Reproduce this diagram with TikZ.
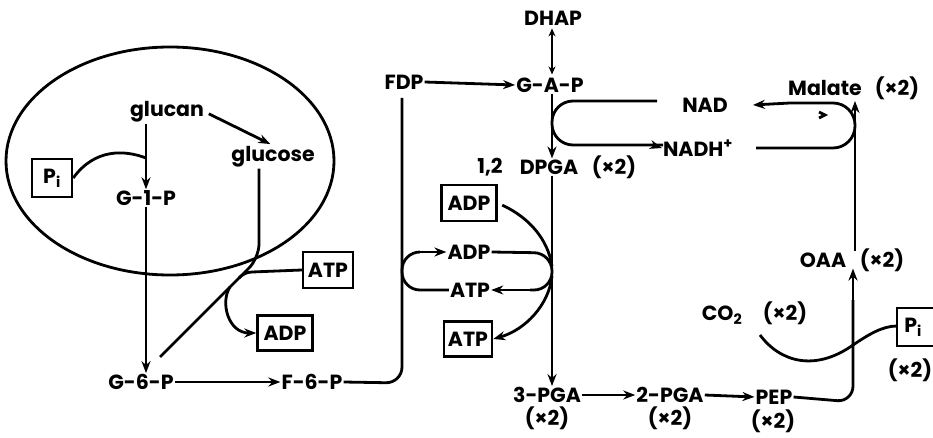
\documentclass[tikz,border=0pt]{standalone}
\usepackage{fontspec}
\setmainfont{Poppins}
\usetikzlibrary{arrows.meta}
\begin{document}
\begin{tikzpicture}[x=1pt,y=-1pt,
  lbl/.style={font=\fontsize{20.5}{22}\selectfont\bfseries, inner sep=1pt},
  boxed/.style={lbl, draw, line width=2.4pt, minimum height=36pt, inner xsep=4pt},
  ln/.style={line width=2.8pt},
  arr/.style={ln, -{Stealth[length=12pt,width=9pt]}},
  arrb/.style={ln, {Stealth[length=8pt,width=7pt]}-{Stealth[length=8pt,width=7pt]}}
]
\useasboundingbox (0,0) rectangle (933,438);
% cell ellipse
\draw[ln] (170,161) ellipse [x radius=164pt, y radius=114pt];
% nodes
\node[lbl] (glucan) at (167,112) {glucan};
\node[lbl] (glucose) at (273,157) {glucose};
\node[lbl] (g1p) at (146,198) {G-1-P};
\node[lbl] (g6p) at (141,382) {G-6-P};
\node[lbl] (f6p) at (312,382) {F-6-P};
\node[boxed, minimum width=40pt, minimum height=38pt] (pi1) at (52,178) {P\textsubscript{i}};
\node[boxed, minimum width=50pt] (atp1) at (328,270) {ATP};
\node[boxed, minimum width=55pt, minimum height=35pt] (adp1) at (285,333) {ADP};
\node[lbl] (fdp) at (404,82) {FDP};
\node[lbl] (gap) at (550,85) {G-A-P};
\node[lbl] (dhap) at (553,18) {DHAP};
\node[lbl] (dpga12) at (490,167) {1,2};
\node[lbl] (dpga) at (549,167) {DPGA};
\node[lbl] (dpgax) at (614,167) {(×2)};
\node[boxed, minimum width=55pt] (adp2box) at (469,203) {ADP};
\node[lbl] (adp2) at (469,252) {ADP};
\node[lbl] (atp2) at (470,290) {ATP};
\node[boxed, minimum width=47pt, minimum height=35pt] (atp2box) at (468,339) {ATP};
\node[lbl] (pga3) at (547,395) {3-PGA};
\node[lbl] (pga3x) at (547,418) {(×2)};
\node[lbl] (pga2) at (670,395) {2-PGA};
\node[lbl] (pga2x) at (670,418) {(×2)};
\node[lbl] (pep) at (774,397) {PEP};
\node[lbl] (pepx) at (773,421) {(×2)};
\node[lbl] (nad) at (705,105) {NAD};
\node[lbl] (nadh) at (698,148) {NADH\textsuperscript{+}};
\node[lbl] (malate) at (825,88) {Malate};
\node[lbl] (malatex) at (897,88) {(×2)};
\node[lbl] (oaa) at (823,260) {OAA};
\node[lbl] (oaax) at (882,260) {(×2)};
\node[lbl] (co2) at (722,315) {CO\textsubscript{2}};
\node[lbl] (co2x) at (785,313) {(×2)};
\draw[line width=2.4pt] (897,308) rectangle (945,346);
\node[lbl] (pi2) at (913,327) {P\textsubscript{i}};
\node[lbl] (pi2x) at (910,370) {(×2)};
% helper coordinates
\coordinate (j1) at (146,158);
\coordinate (d0) at (259,258);
\coordinate (d1) at (160,357);
\coordinate (d2) at (239,278);
\coordinate (d3) at (230,287);
% left part connectors
\draw[arr, shorten <=4pt, shorten >=3pt] (glucan.east) -- (glucose.north);
\draw[arr] (glucan.south -| g1p.north) -- (g1p.north);
\draw[ln] (pi1.east) .. controls (95,148) and (125,150) .. (j1);
\draw[arr] (g1p.south) -- (g1p.south |- g6p.north);
\draw[ln, rounded corners=14pt] ([xshift=-14pt]glucose.south) -- (d0) -- (d1);
\draw[ln] (atp1.west) -- (252,272) .. controls (246,272) and (242,275) .. (d2);
\draw[arr] (d3) .. controls (220,302) and (228,333) .. (adp1.west);
\draw[arr] (g6p.east) -- (f6p.west);
\draw[ln, rounded corners=16pt] (f6p.east) -- (402,383) -- (402,98);
% middle
\draw[arr] (fdp.east) -- (gap.west);
\draw[arrb, shorten <=2pt, shorten >=2pt] (dhap.south -| 552,0) -- (gap.north -| 552,0);
\draw[arr] (gap.south -| 552,0) -- (dpga.north -| 552,0);
\draw[ln, rounded corners=21pt] (657,101) -- (552,101) -- (552,145) -- (663,145);
\draw[arr] (652,145) -- (nadh.west);
\draw[arr] (dpga.south -| 552,0) -- (pga3.north -| 552,0);
\draw[ln, rounded corners=18pt] (atp2.west) -- (402,290) -- (402,252) -- (420,252);
\draw[arr] (420,252) -- (adp2.west);
\draw[ln, rounded corners=18pt] (adp2.east) -- (552,253) -- (552,290) -- (530,290);
\draw[arr] (530,290) -- (atp2.east);
\draw[ln, shorten <=5pt] (adp2box.east) .. controls (530,218) and (548,240) .. (552,266);
\draw[arr] (552,276) .. controls (549,305) and (525,330) .. (atp2box.east);
% right
\draw[ln, rounded corners=22pt] ([xshift=22pt]nadh.east) -- (855,148) -- (855,103) -- (790,103);
\draw[arr] (790,103) -- ([xshift=24pt]nad.east);
\draw[arr] (oaa.north -| 855,0) -- (855,101);
\draw[ln] (819,112) -- (825,115) -- (819,118);
\draw[arr] (pga3.east) -- (pga2.west);
\draw[arr] (pga2.east) -- (pep.west);
\draw[ln, rounded corners=16pt] (pep.east) -- (853,402) -- (853,300);
\draw[arr] (853,300) -- (oaa.south -| 853,0);
\draw[ln] (760,335) .. controls (780,362) and (815,372) .. (853,345) .. controls (868,335) and (882,326) .. (897,326);
\end{tikzpicture}
\end{document}
